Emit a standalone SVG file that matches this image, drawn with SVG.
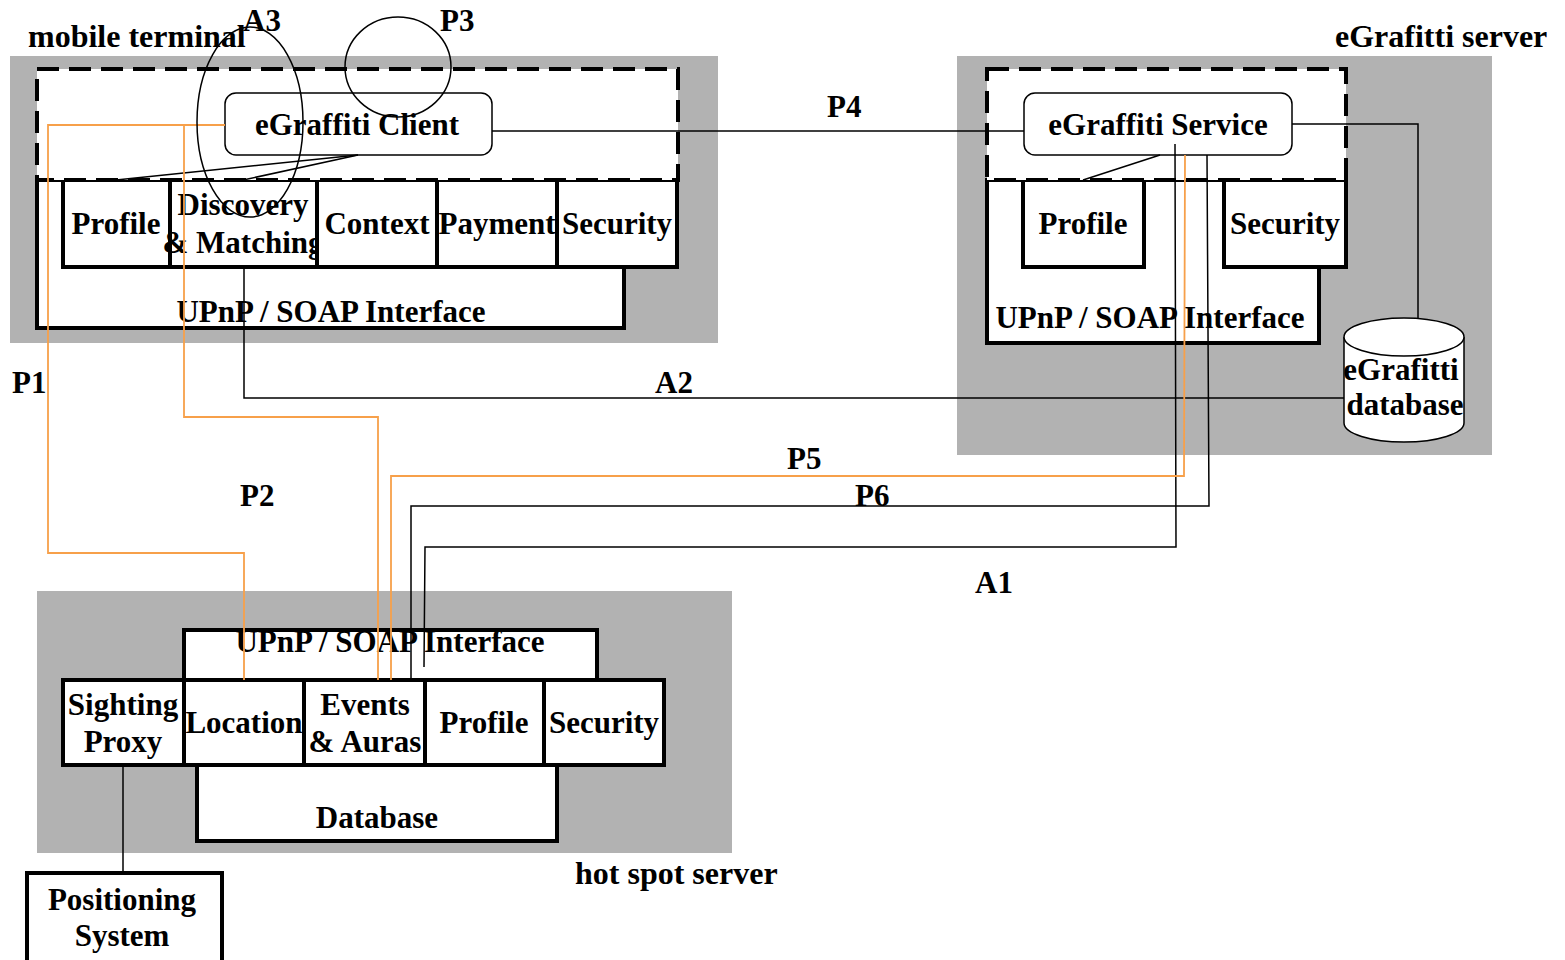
<svg xmlns="http://www.w3.org/2000/svg" width="1565" height="960" viewBox="0 0 1565 960">
  <style>
    .zone { fill: #b2b2b2; }
    .box { fill: #ffffff; stroke: #000000; stroke-width: 4; stroke-linejoin: miter; }
    .dash { fill: #ffffff; stroke: #000000; stroke-width: 4; stroke-dasharray: 22 10; }
    .svc { fill: #ffffff; stroke: #000000; stroke-width: 1.5; }
    .wire { fill: none; stroke: #000000; stroke-width: 1.5; }
    .owire { fill: none; stroke: #f7a04a; stroke-width: 1.8; }
    .ring { fill: none; stroke: #000000; stroke-width: 1.5; }
    text { font-family: "Liberation Serif", "Times New Roman", serif; font-weight: bold; font-size: 31px; fill: #000000; }
    .c { text-anchor: middle; }
    .big { font-size: 32px; }
  </style>

  <!-- mobile terminal -->
  <g id="mobile-terminal">
    <rect class="zone" x="10" y="56" width="708" height="287"/>
    <text class="big" x="28" y="47">mobile terminal</text>
    <rect class="box" x="37" y="180" width="587" height="148"/>
    <text class="c" x="331" y="322">UPnP / SOAP Interface</text>
  </g>
  <g id="mt-profile">
    <rect class="box" x="63" y="180" width="107" height="87"/>
    <text class="c" x="116" y="234">Profile</text>
  </g>
  <g id="mt-discovery">
    <rect class="box" x="170" y="180" width="147" height="87"/>
    <text class="c" x="243" y="215">Discovery</text>
    <text class="c" x="243" y="253">&amp; Matching</text>
  </g>
  <g id="mt-context">
    <rect class="box" x="317" y="180" width="120" height="87"/>
    <text class="c" x="377" y="234">Context</text>
  </g>
  <g id="mt-payment">
    <rect class="box" x="437" y="180" width="120" height="87"/>
    <text class="c" x="497" y="234">Payment</text>
  </g>
  <g id="mt-security">
    <rect class="box" x="557" y="180" width="120" height="87"/>
    <text class="c" x="617" y="234">Security</text>
  </g>
  <g id="mt-app">
    <rect class="dash" x="37" y="69" width="641" height="111"/>
  </g>
  <g id="egraffiti-client">
    <rect class="svc" x="225" y="93" width="267" height="62" rx="11"/>
    <text class="c" x="357" y="135">eGraffiti Client</text>
  </g>

  <!-- eGrafitti server -->
  <g id="egrafitti-server">
    <rect class="zone" x="957" y="56" width="535" height="399"/>
    <text class="big" x="1335" y="47">eGrafitti server</text>
    <rect class="box" x="987" y="180" width="332" height="163"/>
    <text class="c" x="1150" y="328">UPnP / SOAP Interface</text>
  </g>
  <g id="srv-profile">
    <rect class="box" x="1023" y="180" width="121" height="87"/>
    <text class="c" x="1083" y="234">Profile</text>
  </g>
  <g id="srv-security">
    <rect class="box" x="1224" y="180" width="122" height="87"/>
    <text class="c" x="1285" y="234">Security</text>
  </g>
  <g id="srv-app">
    <rect class="dash" x="987" y="69" width="359" height="111"/>
  </g>
  <g id="egraffiti-service">
    <rect class="svc" x="1024" y="93" width="268" height="62" rx="11"/>
    <text class="c" x="1158" y="135">eGraffiti Service</text>
  </g>
  <g id="egrafitti-database">
    <path class="svc" d="M1344,337 L1344,423 A60,19 0 0 0 1464,423 L1464,337 A60,19 0 0 0 1344,337 Z"/>
    <path class="svc" d="M1344,337 A60,19 0 0 0 1464,337"/>
    <text class="c" x="1401" y="380">eGrafitti</text>
    <text class="c" x="1405" y="415">database</text>
  </g>

  <!-- hot spot server -->
  <g id="hot-spot-server">
    <rect class="zone" x="37" y="591" width="695" height="262"/>
    <text class="big" x="575" y="884">hot spot server</text>
    <rect class="box" x="184" y="630" width="413" height="50"/>
    <text class="c" x="390" y="652">UPnP / SOAP Interface</text>
    <rect class="box" x="197" y="765" width="360" height="76"/>
    <text class="c" x="377" y="828">Database</text>
  </g>
  <g id="hs-sighting">
    <rect class="box" x="63" y="680" width="121" height="85"/>
    <text class="c" x="123" y="715">Sighting</text>
    <text class="c" x="123" y="752">Proxy</text>
  </g>
  <g id="hs-location">
    <rect class="box" x="184" y="680" width="120" height="85"/>
    <text class="c" x="244" y="733">Location</text>
  </g>
  <g id="hs-events">
    <rect class="box" x="304" y="680" width="121" height="85"/>
    <text class="c" x="365" y="715">Events</text>
    <text class="c" x="365" y="752">&amp; Auras</text>
  </g>
  <g id="hs-profile">
    <rect class="box" x="425" y="680" width="119" height="85"/>
    <text class="c" x="484" y="733">Profile</text>
  </g>
  <g id="hs-security">
    <rect class="box" x="544" y="680" width="120" height="85"/>
    <text class="c" x="604" y="733">Security</text>
  </g>
  <g id="positioning-system">
    <rect class="box" x="27" y="873" width="195" height="100"/>
    <text class="c" x="122" y="910">Positioning</text>
    <text class="c" x="122" y="946">System</text>
  </g>

  <!-- connectors -->
  <g id="connectors">
    <line class="wire" x1="358" y1="155" x2="116" y2="180"/>
    <line class="wire" x1="358" y1="155" x2="243" y2="180"/>
    <line class="wire" x1="1160" y1="155" x2="1083" y2="180"/>
    <polyline class="wire" points="492,131 1024,131"/>
    <polyline class="wire" points="1292,124 1418,124 1418,318"/>
    <polyline class="wire" points="244,267 244,398 1344,398"/>
    <polyline class="wire" points="1175,144 1176,547 425,547 424,667"/>
    <polyline class="wire" points="1207,155 1209,506 411,506 411,680"/>
    <polyline class="owire" points="1185,155 1184,476 391,476 391,680"/>
    <polyline class="owire" points="225,125 48,125 48,553 244,553 244,680"/>
    <polyline class="owire" points="184,125 184,417 378,417 378,680"/>
    <line class="wire" x1="123" y1="765" x2="123" y2="873"/>
    <ellipse class="ring" cx="250" cy="122" rx="53" ry="95"/>
    <ellipse class="ring" cx="398" cy="67" rx="53" ry="50"/>
  </g>

  <!-- interaction labels -->
  <g id="labels">
    <text x="243" y="31">A3</text>
    <text x="440" y="31">P3</text>
    <text x="827" y="117">P4</text>
    <text x="12" y="393">P1</text>
    <text x="655" y="393">A2</text>
    <text x="787" y="469">P5</text>
    <text x="855" y="506">P6</text>
    <text x="240" y="506">P2</text>
    <text x="975" y="593">A1</text>
  </g>
</svg>
